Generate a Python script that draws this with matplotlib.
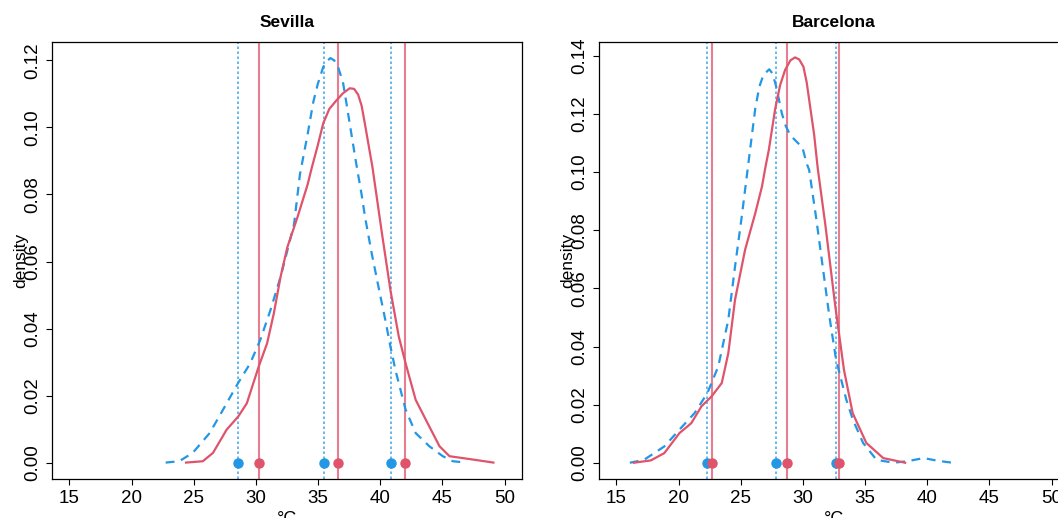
import matplotlib.pyplot as plt

plt.rcParams['font.family'] = ['Liberation Sans', 'DejaVu Sans']

red = '#DF536B'
blue = '#2297E6'

# Sevilla
sev_blue_x = [22.74, 23.83, 24.92, 26.28, 27.36, 28.56, 29.54, 30.35, 31.17, 31.98, 32.53,
              33.07, 33.54, 34.16, 34.61, 34.97, 35.41, 35.7, 36.0, 36.3, 36.61, 37.0, 37.29,
              37.69, 38.09, 38.5, 38.78, 39.32, 39.86, 40.41, 40.82, 41.22, 42.04, 42.85,
              43.94, 45.03, 45.84, 46.93]
sev_blue_y = [0, 0.0004, 0.0029, 0.0088, 0.0158, 0.0237, 0.0296, 0.0366, 0.0455, 0.0554, 0.0633,
              0.0712, 0.0860, 0.0980, 0.1075, 0.1129, 0.1180, 0.1198, 0.1207, 0.1200, 0.1180,
              0.1135, 0.1070, 0.0978, 0.0887, 0.0800, 0.0732, 0.0623, 0.0524, 0.0425, 0.0346,
              0.0276, 0.0158, 0.0088, 0.0049, 0.0019, 0.0004, 0]
sev_red_x = [24.38, 25.73, 26.55, 27.64, 28.59, 29.27, 30.22, 30.9, 31.44, 31.98, 32.53, 33.34,
             34.16, 34.48, 34.97, 35.41, 35.9, 36.48, 37.0, 37.55, 37.9, 38.22, 38.5, 38.76,
             39.05, 39.37, 40.14, 40.82, 41.49, 42.04, 42.85, 43.94, 44.76, 45.57, 47.47, 49.1]
sev_red_y = [0, 0.0004, 0.0029, 0.0098, 0.0138, 0.0177, 0.0286, 0.0356, 0.0445, 0.0554, 0.0643,
             0.0732, 0.0830, 0.0878, 0.0946, 0.1012, 0.1055, 0.1081, 0.1102, 0.1117, 0.1115,
             0.1098, 0.1065, 0.1012, 0.0950, 0.0882, 0.0683, 0.0514, 0.0376, 0.0296, 0.0187,
             0.0108, 0.0049, 0.0019, 0.0009, 0]
sev_blue_q = [28.57, 35.5, 40.83]
sev_red_q = [30.23, 36.57, 42.0]

# Barcelona
bcn_blue_x = [16.08, 17.22, 18.85, 20.07, 21.29, 22.32, 23.19, 24.0, 24.54, 25.08, 25.63, 26.17,
              26.5, 26.83, 27.29, 27.55, 27.85, 28.3, 28.61, 28.97, 29.42, 29.96, 30.3, 30.5,
              31.05, 31.59, 32.13, 32.67, 33.49, 34.02, 34.84, 35.92, 37.28, 38.36, 39.72,
              40.8, 42.02]
bcn_blue_y = [0, 0.001, 0.0056, 0.0114, 0.0171, 0.024, 0.0331, 0.0492, 0.0675, 0.0847, 0.1036,
              0.1220, 0.1295, 0.1335, 0.1354, 0.1340, 0.1295, 0.1203, 0.1160, 0.1128, 0.1108,
              0.1085, 0.1030, 0.1008, 0.0847, 0.0675, 0.0503, 0.0354, 0.0217, 0.0148, 0.0068,
              0.001, 0, 0.0005, 0.0016, 0.0007, 0]
bcn_red_x = [16.41, 17.77, 18.85, 20.07, 21.02, 21.84, 22.65, 23.47, 24.0, 24.54, 25.35, 26.17,
             26.71, 26.97, 27.26, 27.77, 28.17, 28.57, 29.0, 29.37, 29.7, 30.04, 30.3, 30.58,
             30.9, 31.19, 31.8, 32.6, 33.3, 34.0, 35.1, 36.46, 38.22]
bcn_red_y = [0, 0.0008, 0.0033, 0.0102, 0.0136, 0.0194, 0.0228, 0.0274, 0.0377, 0.0561, 0.0733,
             0.0859, 0.0951, 0.1014, 0.1077, 0.1218, 0.1300, 0.1352, 0.1385, 0.1395, 0.1388,
             0.1363, 0.1310, 0.1226, 0.1130, 0.1014, 0.0820, 0.0540, 0.0320, 0.0171, 0.0068,
             0.0016, 0]
bcn_blue_q = [22.3, 27.8, 32.65]
bcn_red_q = [22.65, 28.68, 32.87]

xticks = [15, 20, 25, 30, 35, 40, 45, 50]

fig = plt.figure(figsize=(10.58, 5.18), dpi=100)
W, H = 1058, 518
ax1 = fig.add_axes([52 / W, (H - 479) / H, 470 / W, 437 / H])
ax2 = fig.add_axes([599 / W, (H - 479) / H, 470 / W, 437 / H])

panels = [
    (ax1, 'Sevilla', sev_blue_x, sev_blue_y, sev_red_x, sev_red_y, sev_blue_q, sev_red_q,
     (-0.0049, 0.1255), [0, 0.02, 0.04, 0.06, 0.08, 0.10, 0.12]),
    (ax2, 'Barcelona', bcn_blue_x, bcn_blue_y, bcn_red_x, bcn_red_y, bcn_blue_q, bcn_red_q,
     (-0.0056, 0.1448), [0, 0.02, 0.04, 0.06, 0.08, 0.10, 0.12, 0.14]),
]

for ax, title, bx, by, rx, ry, bq, rq, ylim, yticks in panels:
    for q in bq:
        ax.axvline(q, color=blue, lw=1.2, ls=(0, (1.5, 1.5)), alpha=0.8)
    for q in rq:
        ax.axvline(q, color=red, lw=1.5, alpha=0.75)
    ax.plot(bx, by, color=blue, lw=1.6, ls=(0, (4, 3)))
    ax.plot(rx, ry, color=red, lw=1.6)
    ax.plot(bq, [0] * len(bq), 'o', color=blue, ms=6.5, clip_on=False)
    ax.plot(rq, [0] * len(rq), 'o', color=red, ms=6.5, clip_on=False)
    ax.set_xlim(13.6, 51.4)
    ax.set_ylim(*ylim)
    ax.set_xticks(xticks)
    ax.set_yticks(yticks)
    ax.set_yticklabels([f'{v:.2f}' for v in yticks], rotation=90, va='center')
    ax.tick_params(labelsize=13.5, length=4, width=0.8, pad=4, color='black')
    ax.set_title(title, fontsize=12.5, fontweight='bold', pad=11)
    ax.set_xlabel('°C', fontsize=13, labelpad=3)
    ax.set_ylabel('density', fontsize=12.5, labelpad=-3)
    for s in ax.spines.values():
        s.set_linewidth(0.9)

fig.savefig('out.png', dpi=100)
